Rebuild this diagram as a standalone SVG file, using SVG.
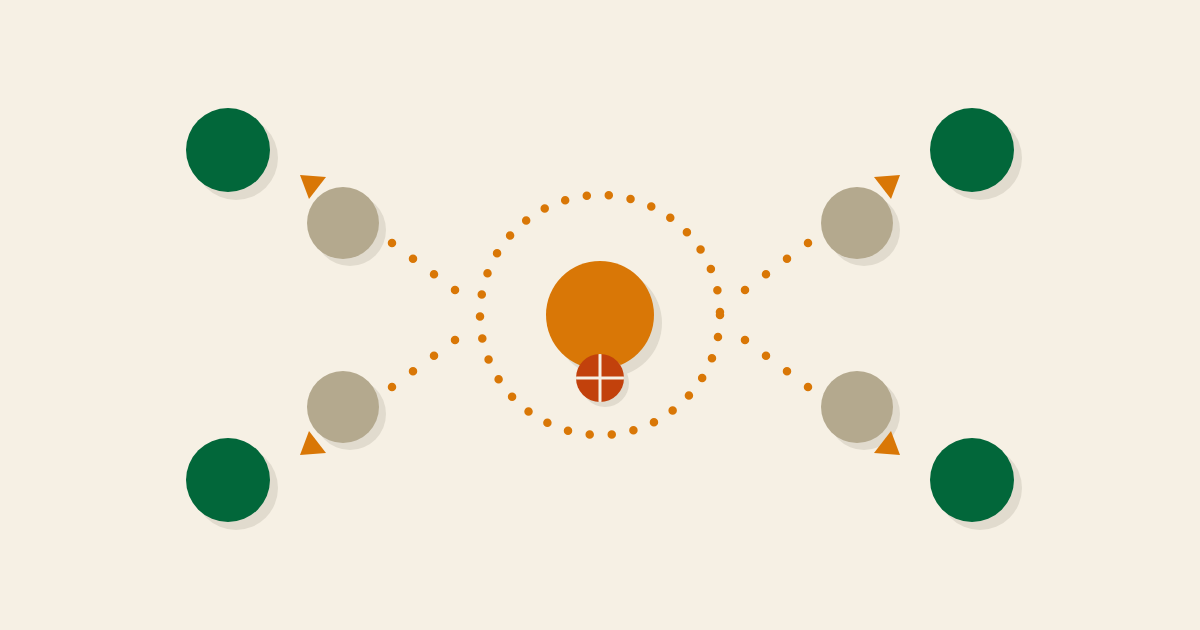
<svg xmlns="http://www.w3.org/2000/svg" width="1200" height="630" viewBox="0 0 1200 630">
<defs>
<style>
.bg{fill:#F6F0E4}
.sh{fill:#E1DBCE}
.green{fill:#02673A}
.grey{fill:#B4A98E}
.orange{fill:#D97706}
.red{fill:#C2410C}
.dots{fill:none;stroke:#D97706;stroke-width:8.5;stroke-linecap:round}
.arrow{fill:#D97706}
.cross{stroke:#F6F0E4;stroke-width:3}
</style>
<clipPath id="redclip"><circle cx="600" cy="378" r="24"/></clipPath>
</defs>
<rect class="bg" width="1200" height="630"/>
<g id="green-tl"><circle class="sh" cx="236" cy="158" r="42"/><circle class="green" cx="228" cy="150" r="42"/></g>
<g id="green-tr"><circle class="sh" cx="980" cy="158" r="42"/><circle class="green" cx="972" cy="150" r="42"/></g>
<g id="green-bl"><circle class="sh" cx="236" cy="488" r="42"/><circle class="green" cx="228" cy="480" r="42"/></g>
<g id="green-br"><circle class="sh" cx="980" cy="488" r="42"/><circle class="green" cx="972" cy="480" r="42"/></g>
<g id="grey-tl"><circle class="sh" cx="350" cy="230" r="36"/><circle class="grey" cx="343" cy="223" r="36"/></g>
<g id="grey-tr"><circle class="sh" cx="864" cy="230" r="36"/><circle class="grey" cx="857" cy="223" r="36"/></g>
<g id="grey-bl"><circle class="sh" cx="350" cy="414" r="36"/><circle class="grey" cx="343" cy="407" r="36"/></g>
<g id="grey-br"><circle class="sh" cx="864" cy="414" r="36"/><circle class="grey" cx="857" cy="407" r="36"/></g>
<g id="center"><circle class="sh" cx="608" cy="323" r="54"/><circle class="orange" cx="600" cy="315" r="54"/></g>
<g id="badge">
<circle class="sh" cx="605" cy="383" r="24"/>
<circle class="red" cx="600" cy="378" r="24"/>
<g clip-path="url(#redclip)">
<line class="cross" x1="600" y1="350" x2="600" y2="406"/>
<line class="cross" x1="572" y1="378" x2="628" y2="378"/>
</g>
</g>
<g id="connectors">
<circle class="dots" cx="600" cy="315" r="120" stroke-dasharray="0 22.08"/>
<line class="dots" x1="392" y1="243" x2="456.1" y2="290.8" stroke-dasharray="0 26.2"/>
<line class="dots" x1="392" y1="387" x2="456.1" y2="339.2" stroke-dasharray="0 26.2"/>
<line class="dots" x1="808" y1="243" x2="743.9" y2="290.8" stroke-dasharray="0 26.2"/>
<line class="dots" x1="808" y1="387" x2="743.9" y2="339.2" stroke-dasharray="0 26.2"/>
<polygon class="arrow" points="300,175 326,177 309,199"/>
<polygon class="arrow" points="900,175 874,177 891,199"/>
<polygon class="arrow" points="300,455 326,453 309,431"/>
<polygon class="arrow" points="900,455 874,453 891,431"/>
</g>
</svg>
